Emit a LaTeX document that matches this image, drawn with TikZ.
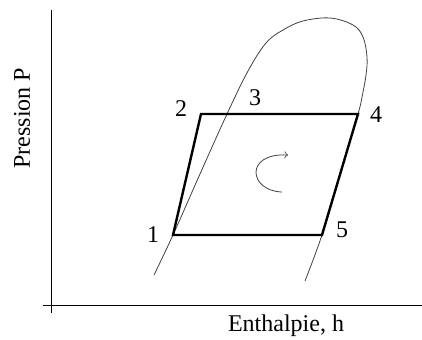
\documentclass[tikz,border=0pt]{standalone}
\usepackage{fontspec}
\setmainfont{Liberation Serif}
\begin{document}
\begin{tikzpicture}[x=0.5pt, y=0.5pt, every node/.style={font=\fontsize{12}{14}\selectfont}]
\useasboundingbox (0,0) rectangle (422,339);

% axes
\draw (51,26) -- (51,329);
\draw (43,34) -- (422,34);
\node [rotate=90] (ylab) at (22,221) {Pression P};
\node (xlab) at (286,13) {Enthalpie, h};

% cycle points
\coordinate (p1) at (173,104);
\coordinate (p2) at (201,225);
\coordinate (p4) at (358,225);
\coordinate (p5) at (322,104);

% saturation dome
\begin{scope}[line width=0.4pt, black!75]
\draw plot [smooth, tension=0.6] coordinates {(154,64) (p1) (200,165) (227,225) (248,268) (266,296) (283,309) (303,318) (330,321) (353,314) (363,302) (367,282) (366,264) (362,242) (p4) (340,164) (p5) (305,58)};
\draw [->] (282,147) .. controls (249,148) and (244,186) .. (288,184);
\end{scope}

\draw [line width=1.2pt] (p1) -- (p2) -- (p4) -- (p5) -- cycle;

\node (n1) at (153,104) {1};
\node (n2) at (181,230) {2};
\node (n3) at (255,241) {3};
\node (n4) at (376,224) {4};
\node (n5) at (342,109) {5};

\end{tikzpicture}
\end{document}
